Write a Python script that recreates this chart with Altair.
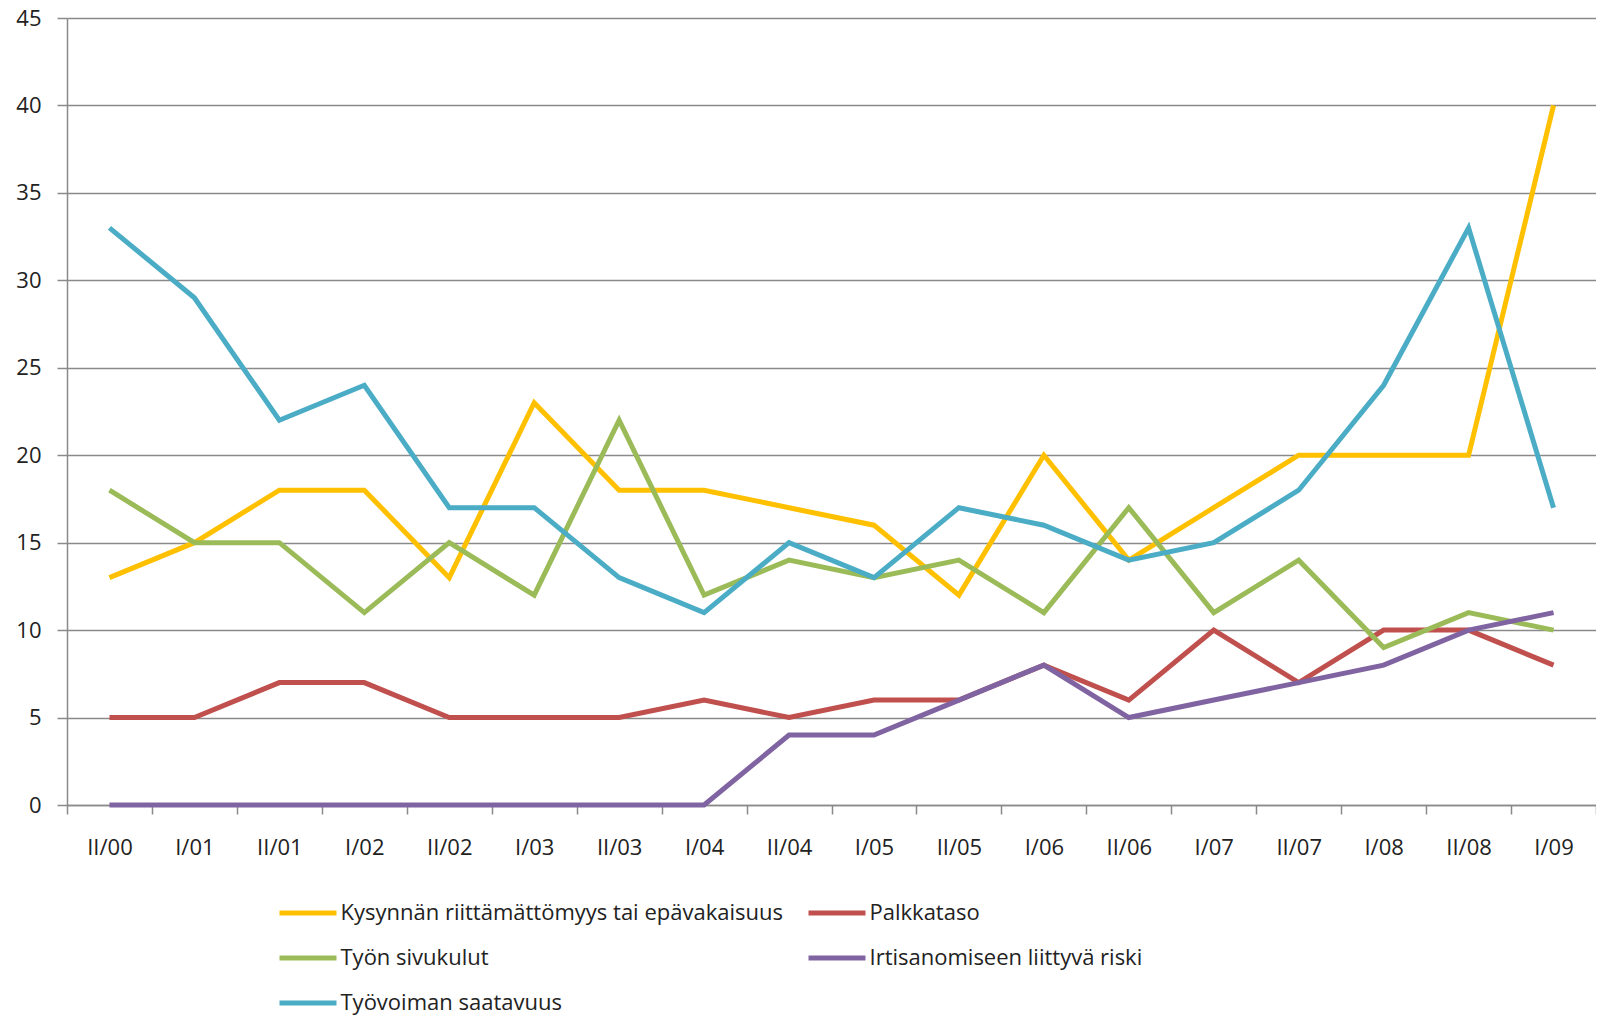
import altair as alt
import pandas as pd

periods = ["II/00", "I/01", "II/01", "I/02", "II/02", "I/03", "II/03", "I/04", "II/04",
           "I/05", "II/05", "I/06", "II/06", "I/07", "II/07", "I/08", "II/08", "I/09"]

series_names = [
    "Kysynnän riittämättömyys tai epävakaisuus",
    "Palkkataso",
    "Työn sivukulut",
    "Irtisanomiseen liittyvä riski",
    "Työvoiman saatavuus",
]
series_colors = ["#FFC000", "#C0504D", "#9BBB59", "#8064A2", "#4BACC6"]

kysynta = [13, 15, 18, 18, 13, 23, 18, 18, 17, 16, 12, 20, 14, 17, 20, 20, 20, 40]
palkkataso = [5, 5, 7, 7, 5, 5, 5, 6, 5, 6, 6, 8, 6, 10, 7, 10, 10, 8]
sivukulut = [18, 15, 15, 11, 15, 12, 22, 12, 14, 13, 14, 11, 17, 11, 14, 9, 11, 10]
irtisanominen = [0, 0, 0, 0, 0, 0, 0, 0, 4, 4, 6, 8, 5, 6, 7, 8, 10, 11]
saatavuus = [33, 29, 22, 24, 17, 17, 13, 11, 15, 13, 17, 16, 14, 15, 18, 24, 33, 17]

y_ticks = [0, 5, 10, 15, 20, 25, 30, 35, 40, 45]

rows = []
for name, vals in zip(series_names, [kysynta, palkkataso, sivukulut, irtisanominen, saatavuus]):
    for p, v in zip(periods, vals):
        rows.append({"kausi": p, "sarja": name, "arvo": v})
df = pd.DataFrame(rows)

FONT = "Open Sans"
TXT = "#222222"
GRID = "#8a8a8a"

chart = alt.Chart(df).mark_line(strokeWidth=5).encode(
    x=alt.X(
        "kausi:N",
        sort=periods,
        bandPosition=0.5,
        scale=alt.Scale(type="band", paddingInner=0, paddingOuter=0),
        axis=alt.Axis(
            title=None,
            tickBand="extent",
            labelAngle=0,
            labelFont=FONT,
            labelFontSize=22,
            labelColor=TXT,
            labelPadding=23,
            tickSize=9,
            tickColor=GRID,
            tickWidth=1.5,
            domainColor=GRID,
            domainWidth=1.5,
            grid=False,
        ),
    ),
    y=alt.Y(
        "arvo:Q",
        scale=alt.Scale(domain=[0, 45], nice=False),
        axis=alt.Axis(
            title=None,
            values=y_ticks,
            labelFont=FONT,
            labelFontSize=22,
            labelColor=TXT,
            labelPadding=16,
            tickSize=10,
            tickColor=GRID,
            tickWidth=1.5,
            domainColor=GRID,
            domainWidth=1.5,
            grid=True,
            gridColor=GRID,
            gridWidth=1.5,
        ),
    ),
    color=alt.Color(
        "sarja:N",
        sort=series_names,
        scale=alt.Scale(domain=series_names, range=series_colors),
        legend=alt.Legend(
            title=None,
            orient="none",
            direction="horizontal",
            legendX=224,
            legendY=878,
            columns=2,
            symbolType="M-2,0H2",
            symbolSize=812,
            symbolStrokeWidth=5,
            labelFont=FONT,
            labelFontSize=22,
            labelColor=TXT,
            labelOffset=15.5,
            labelLimit=800,
            rowPadding=17,
            columnPadding=15,
        ),
    ),
).properties(
    width=1529,
    height=787,
    autosize=alt.AutoSizeParams(type="none"),
    padding={"left": 59, "top": 10, "right": 0, "bottom": 213},
).configure_view(stroke=None)

chart.save("out.html", embed_options={"renderer": "svg", "actions": False})
